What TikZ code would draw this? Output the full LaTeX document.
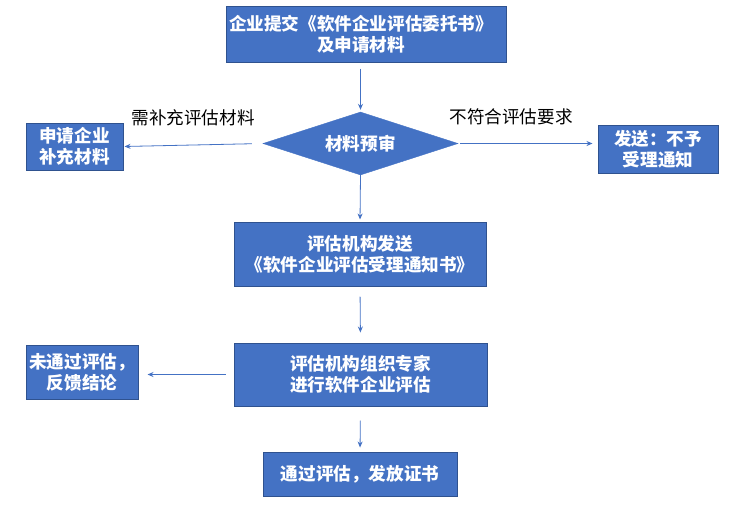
\documentclass[tikz,border=0pt]{standalone}
\usepackage{fontspec}
\setmainfont{Noto Sans CJK SC}
\usetikzlibrary{shapes.geometric,arrows.meta}
\definecolor{boxfill}{HTML}{4472C4}
\definecolor{boxline}{HTML}{2F528F}
\definecolor{arrowc}{HTML}{4472C4}
\tikzset{
  box/.style={draw=boxline, line width=1pt, fill=boxfill, text=white, font=\fontsize{17.6}{21}\selectfont\bfseries, align=center, inner sep=0pt},
  decision/.style={diamond, aspect=3, fill=boxfill, draw=boxfill, text=white, font=\fontsize{17.6}{21}\selectfont\bfseries, inner sep=0pt, minimum width=195pt, minimum height=63pt},
  lab/.style={text=black, font=\fontsize{17.6}{21}\selectfont, inner sep=0pt},
  arr/.style={draw=arrowc, line width=0.8pt, -{Stealth[length=6pt,width=5pt]}}
}
\begin{document}
\begin{tikzpicture}[x=1pt,y=-1pt]
\useasboundingbox (0,0) rectangle (746,509);
\node[box, minimum width=280pt, minimum height=56pt] (top) at (366,34) {企业提交《软件企业评估委托书》\hspace*{10pt}\\及申请材料\hspace*{10pt}};
\node[decision] (dia) at (360.5,143.5) {材料预审};
\node[box, minimum width=97pt, minimum height=47pt] (left1) at (74.5,146.5) {申请企业\\补充材料};
\node[box, minimum width=120pt, minimum height=48pt] (right1) at (658,149) {发送：不予\\受理通知};
\node[box, minimum width=252pt, minimum height=64pt] (box2) at (360,254) {评估机构发送\\《软件企业评估受理通知书》};
\node[box, minimum width=253pt, minimum height=63pt] (box3) at (360.5,374.5) {评估机构组织专家\\进行软件企业评估};
\node[box, minimum width=112pt, minimum height=54pt] (left2) at (82,372) {未通过评估，\\反馈结论};
\node[box, minimum width=194pt, minimum height=44pt] (final) at (360,474) {通过评估，发放证书};
\node[lab] (l1) at (193,118) {需补充评估材料};
\node[lab] (l2) at (511,117) {不符合评估要求};
\draw[arr, shorten <=6pt, shorten >=2pt] (top.south -| dia.north) -- (dia.north);
\draw[arr, shorten <=11pt, shorten >=1pt] (dia.west) -- (left1.east);
\draw[arr, shorten <=2pt, shorten >=5pt] (dia.east) -- (dia.east -| right1.west);
\draw[arr, shorten >=2pt] (dia.south) -- (box2.north);
\draw[arr, shorten <=10pt, shorten >=10pt] (box2.south) -- (box3.north);
\draw[arr, shorten <=8pt, shorten >=9pt] (box3.west) -- (box3.west -| left2.east);
\draw[arr, shorten <=14pt, shorten >=4pt] (box3.south) -- (final.north);
\end{tikzpicture}
\end{document}
